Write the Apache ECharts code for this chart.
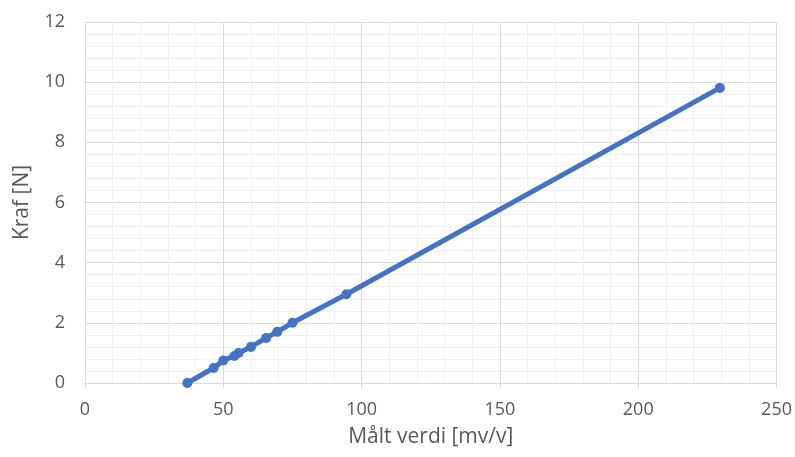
<!DOCTYPE html>
<html>
<head>
    <meta charset="utf-8">
    <title>Kraft mot målt verdi</title>
    <script src="https://cdn.jsdelivr.net/npm/echarts@6/dist/echarts.min.js"></script>
</head>
<body style="margin:0;">
    <div id="main" style="width: 795px;height:457px;"></div>
    <script type="text/javascript">
    // målt verdi (x) og kraft (y), lest av figuren
    var maltVerdi = [37, 46.5, 50, 54, 55.5, 60, 65.5, 69.5, 75, 94.5, 229.5];
    var kraft = [0, 0.5, 0.75, 0.9, 1.0, 1.2, 1.5, 1.7, 2.0, 2.95, 9.81];

    var data = [];
    for (var i = 0; i < maltVerdi.length; i++) {
        data.push([maltVerdi[i], kraft[i]]);
    }

    var myChart = echarts.init(document.getElementById('main'));
    var txt = '#595959';
    var font = 'Open Sans';

    option = {
        animation: false,
        grid: {
            left: 85,
            right: 16,
            top: 22,
            bottom: 74
        },
        xAxis: {
            type: 'value',
            min: 0,
            max: 250,
            interval: 50,
            name: 'Målt verdi [mv/v]',
            nameLocation: 'middle',
            nameGap: 44,
            nameTextStyle: { color: txt, fontSize: 21, fontFamily: font },
            axisLine: { show: true, onZero: false, lineStyle: { color: '#d9d9d9' } },
            axisTick: { show: true, length: 5, lineStyle: { color: '#d9d9d9' } },
            axisLabel: { color: txt, fontSize: 18, fontFamily: font, margin: 18 },
            splitLine: { show: true, lineStyle: { color: '#d9d9d9' } },
            minorTick: { show: false, splitNumber: 5 },
            minorSplitLine: { show: true, lineStyle: { color: '#f0f0f0' } }
        },
        yAxis: {
            type: 'value',
            min: 0,
            max: 12,
            interval: 2,
            name: 'Kraf [N]',
            nameLocation: 'middle',
            nameGap: 52,
            nameTextStyle: { color: txt, fontSize: 21, fontFamily: font },
            axisLine: { show: false },
            axisTick: { show: false },
            axisLabel: { color: txt, fontSize: 18, fontFamily: font, margin: 20 },
            splitLine: { show: true, lineStyle: { color: '#d9d9d9' } },
            minorTick: { show: false, splitNumber: 5 },
            minorSplitLine: { show: true, lineStyle: { color: '#f0f0f0' } }
        },
        series: [{
            type: 'line',
            data: data,
            symbol: 'circle',
            symbolSize: 10,
            showSymbol: true,
            itemStyle: { color: '#4472c4' },
            lineStyle: { color: '#4472c4', width: 5 }
        }]
    };

    myChart.setOption(option);
</script>
</body>
</html>
